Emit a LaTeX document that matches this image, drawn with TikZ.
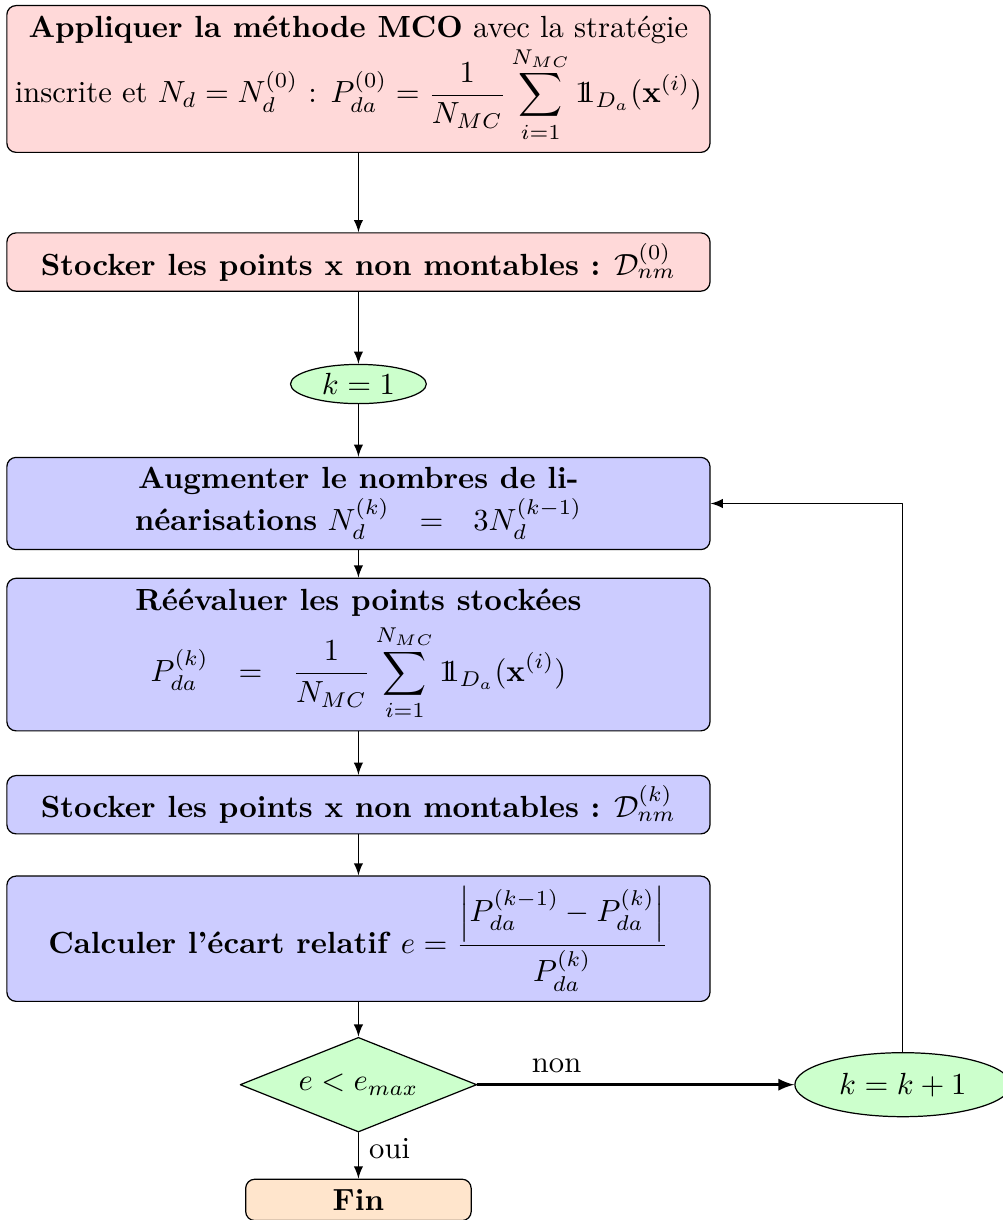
\documentclass[tikz,border=0pt]{standalone}
\usepackage{amsmath}
\usetikzlibrary{shapes.geometric}
\definecolor{FigureRed}{HTML}{FFD9D9}
\definecolor{FigureBlue}{HTML}{CCCCFF}
\definecolor{FigureGreen}{HTML}{CCFFCC}
\definecolor{FigureOrange}{HTML}{FFE5CC}
\newcommand{\indic}{\mathrm{1}\mkern-6mu\mathrm{1}}
\begin{document}
\begin{tikzpicture}[line cap=round,line join=round,
  etape/.style={draw,rounded corners=3pt,text width=7.84cm,align=flush center},
  bulle/.style={draw,ellipse,fill=FigureGreen,inner sep=0pt},
  test/.style={draw,diamond,aspect=2.5,fill=FigureGreen,inner sep=3pt}]
  \useasboundingbox (0,0) rectangle (11.51,-14.01);
  \node[etape,fill=FigureRed] (mco) at (4.116,-0.907)
    {\textbf{Appliquer la méthode MCO} avec la stratégie\\
     \makebox[7.84cm][c]{inscrite et $N_d=N_d^{(0)}$ : $P_{da}^{(0)}=\dfrac{1}{N_{MC}}\displaystyle\sum_{i=1}^{N_{MC}}\indic_{D_a}(\mathbf{x}^{(i)})$}};
  \node[etape,fill=FigureRed] (stock0) at (4.116,-3.009)
    {\textbf{Stocker les points x non montables :} $\mathcal{D}_{nm}^{(0)}$};
  \node[bulle,minimum width=1.56cm,minimum height=0.45cm] (k1) at (4.116,-4.41) {$k=1$};
  \node[etape,fill=FigureBlue] (aug) at (4.116,-5.782)
    {\textbf{Augmenter le nombres de li-\\néarisations} $N_d^{(k)}\hspace{7pt}=\hspace{7pt}3N_d^{(k-1)}$};
  \node[etape,fill=FigureBlue] (reev) at (4.116,-7.517)
    {\textbf{Réévaluer les points stockées}\\[2pt]
     $\displaystyle P_{da}^{(k)}\hspace{7pt}=\hspace{7pt}\frac{1}{N_{MC}}\sum_{i=1}^{N_{MC}}\indic_{D_a}(\mathbf{x}^{(i)})$\\[2pt]};
  \node[etape,fill=FigureBlue] (stockk) at (4.116,-9.241)
    {\textbf{Stocker les points x non montables :} $\mathcal{D}_{nm}^{(k)}$};
  \node[etape,fill=FigureBlue] (ecart) at (4.116,-10.78)
    {\textbf{Calculer l'écart relatif} $e=\dfrac{\left|P_{da}^{(k-1)}-P_{da}^{(k)}\right|}{P_{da}^{(k)}}$};
  \node[test] (crit) at (4.116,-12.456) {$e<e_{max}$};
  \node[draw,rounded corners=3pt,fill=FigureOrange,minimum width=2.59cm] (fin) at (4.116,-13.779) {\textbf{Fin}};
  \node[bulle,minimum width=2.48cm,minimum height=0.735cm] (incr) at (10.368,-12.456) {$k=k+1$};
  \draw[-latex] (mco)--(stock0);
  \draw[-latex] (stock0)--(k1);
  \draw[-latex] (k1)--(aug);
  \draw[-latex] (aug)--(reev);
  \draw[-latex] (reev)--(stockk);
  \draw[-latex] (stockk)--(ecart);
  \draw[-latex] (ecart)--(crit);
  \draw[-latex] (crit)--(fin) node[pos=0.35,right] {oui};
  \draw[-latex,line width=0.8pt] (crit)--(incr) node[pos=0.25,above] {non};
  \draw[-latex] (incr.north) |- (aug.east);
\end{tikzpicture}
\end{document}
